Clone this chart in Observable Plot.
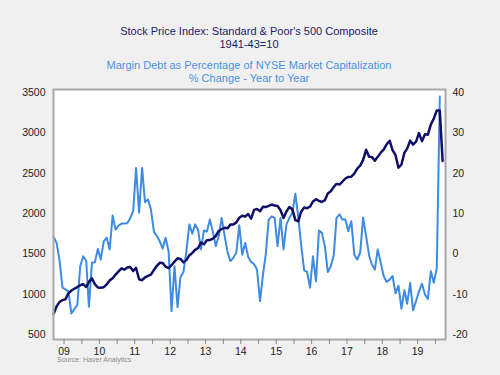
<!DOCTYPE html>
<html><head><meta charset="utf-8">
<script src="https://cdn.jsdelivr.net/npm/d3@7"></script>
<script src="https://cdn.jsdelivr.net/npm/@observablehq/plot@0.6"></script>
<style>
body{margin:0;background:#f0f0f0;font-family:"Liberation Sans",Arial,sans-serif;}
#wrap{position:relative;width:500px;height:375px;overflow:hidden;background:#f0f0f0;}
#chart{position:absolute;left:0;top:0;}
.t{position:absolute;left:0;width:498px;text-align:center;font-size:11px;line-height:13px;}
</style></head><body><div id="wrap">
<div id="chart"></div>
<div class="t" style="top:24.5px;color:#1b1b6b">Stock Price Index: Standard &amp; Poor's 500 Composite<br>1941-43=10</div>
<div class="t" style="top:58.5px;color:#4a90e2">Margin Debt as Percentage of NYSE Market Capitalization<br>% Change - Year to Year</div>
<div style="position:absolute;left:57px;top:356px;font-size:7px;color:#8a8a8a">Source: Haver Analytics</div>
</div>
<script>
// Monthly data, first month March 2009
const startYear = 2009, startMonth = 2; // March (0-based)
const sp500 = [
  757, 848, 902, 926, 935, 1010, 1045, 1067, 1088, 1111,
  1124, 1089, 1152, 1197, 1125, 1083, 1080, 1087, 1122, 1171, 1198, 1242,
  1282, 1321, 1304, 1331, 1338, 1288, 1325, 1185, 1173, 1207, 1226, 1243,
  1300, 1352, 1389, 1386, 1341, 1323, 1359, 1404, 1444, 1437, 1394, 1422,
  1480, 1512, 1550, 1571, 1640, 1619, 1669, 1671, 1688, 1721, 1783, 1807,
  1822, 1817, 1864, 1864, 1890, 1947, 1973, 1962, 1993, 1937, 2045, 2055,
  2028, 2083, 2080, 2095, 2111, 2099, 2094, 2040, 1945, 2024, 2080, 2054,
  1918, 1904, 2022, 2075, 2066, 2084, 2149, 2177, 2157, 2143, 2165, 2247,
  2275, 2330, 2367, 2359, 2395, 2434, 2454, 2456, 2493, 2557, 2593, 2665,
  2790, 2705, 2702, 2654, 2702, 2754, 2793, 2858, 2902, 2785, 2723, 2567,
  2607, 2754, 2804, 2903, 2854, 2890, 2996, 2897, 2982, 2977, 3104, 3176,
  3278, 3277, 2652
];
const marginDebt = [
  4.2, 2.7, -1.5, -8.4, -8.8, -9.3, -14.8, -13.7, -12.7, -3.1,
  -0.6, -1.8, -13.1, -2.2, -2.1, 1.2, -1.4, 3.1, 4.0, 1.1,
  9.5, 6.0, 7.0, 7.5, 7.5, 7.6, 8.8, 10.6, 21.3, 10.2,
  21.3, 12.8, 13.5, 11.0, 5.5, 4.4, 3.1, 1.3, 4.0, 0.6,
  -14.2, -3.1, -13.2, -5.8, -4.5, 0.5, 7.3, 5.0, 7.3, 6.0,
  1.1, 5.8, 5.5, 8.5, 5.5, 1.9, 4.4, 8.9, 4.4, 0.3,
  -1.8, -1.0, 0.3, 7.1, -0.2, 2.7, -0.8, -2.0, -2.6, -3.9,
  -11.7, -5.1, -0.2, 8.5, 9.3, 8.9, 1.9, 8.9, 1.1, 7.3,
  8.9, 10.2, 14.9, 8.9, 2.3, -4.1, -4.5, -8.4, -0.6, -6.8,
  5.8, 5.2, 1.9, -4.5, -3.1, -0.3, 8.9, 9.8, 8.5, 8.5,
  5.6, 8.1, -0.2, -1.4, 0.3, 9.0, 4.4, -0.4, -2.6, -3.9,
  1.1, -2.2, -5.5, -7.0, -6.4, -5.5, -9.8, -7.9, -13.6, -9.0,
  -12.4, -7.2, -14.0, -11.7, -9.3, -7.4, -10.1, -11.2, -4.3, -7.2,
  -3.5, 39
];
const leftTicks = [500, 1000, 1500, 2000, 2500, 3000, 3500];
const rightTicks = [-20, -10, 0, 10, 20, 30, 40];
const yearLabels = ["09","10","11","12","13","14","15","16","17","18","19"];

const monthDate = i => new Date(Date.UTC(startYear, startMonth + i, 15));
const spData = sp500.map((v, i) => ({date: monthDate(i), v}));
const mdData = marginDebt.map((v, i) => ({date: monthDate(i), v}));

// right axis (-20..40) mapped onto left scale (500..3500)
const toLeft = v => 500 + (v + 20) / 60 * 3000;
const fromLeft = d => Math.round((d - 500) / 3000 * 60 - 20);

const xTicks = [];
yearLabels.forEach((lab, k) => {
  xTicks.push(new Date(Date.UTC(2009 + k, 6, 1)));
  xTicks.push(new Date(Date.UTC(2010 + k, 0, 1)));
});

const chart = Plot.plot({
  width: 500, height: 375,
  marginLeft: 53, marginRight: 55, marginTop: 89, marginBottom: 36,
  style: {background: "transparent", fontFamily: "Liberation Sans, Arial, sans-serif", fontSize: "10.5px", color: "#222"},
  x: {type: "utc", domain: [new Date(Date.UTC(2009, 2, 14)), new Date(Date.UTC(2020, 3, 14))]},
  y: {domain: [500, 3500], insetTop: 3, insetBottom: 5},
  marks: [
    Plot.frame({fill: "white", stroke: null}),
    Plot.line(mdData, {x: "date", y: d => toLeft(d.v), stroke: "#3d8be3", strokeWidth: 2}),
    Plot.line(spData, {x: "date", y: "v", stroke: "#10106a", strokeWidth: 2.5}),
    Plot.frame({stroke: "#a8a8a8", strokeWidth: 2}),
    Plot.axisY({ticks: leftTicks, tickSize: 0, tickPadding: 8, tickFormat: d => String(d), label: null}),
    Plot.axisY({anchor: "right", ticks: rightTicks.map(toLeft), tickSize: 0, tickPadding: 7, tickFormat: fromLeft, label: null}),
    Plot.axisX({ticks: xTicks, tickSize: 5, stroke: "#888", tickPadding: 3, label: null,
      tickFormat: d => d.getUTCMonth() === 6 ? String(d.getUTCFullYear()).slice(2) : ""})
  ]
});
document.getElementById("chart").appendChild(chart);
</script>
</body></html>
